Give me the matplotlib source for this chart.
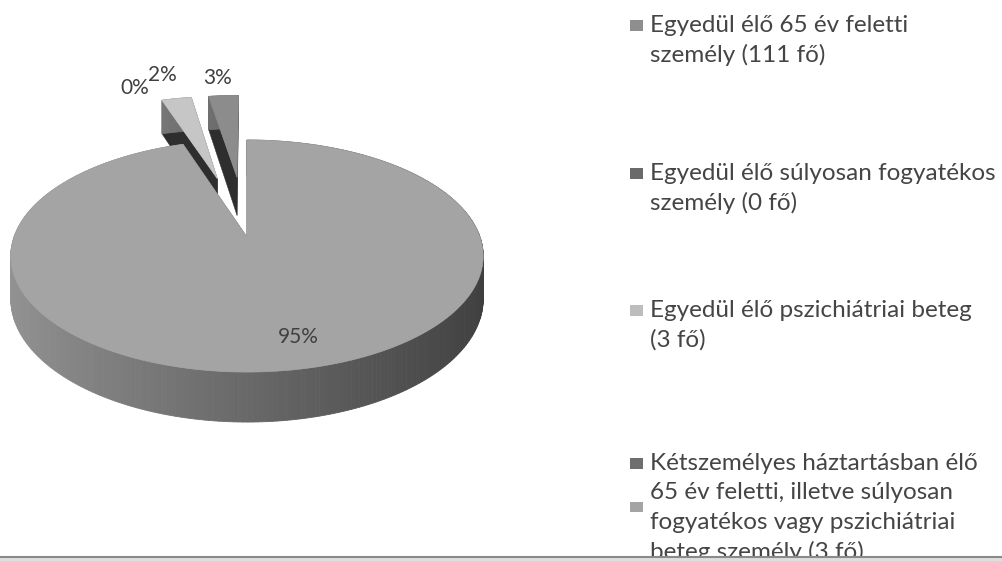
import numpy as np
import matplotlib.pyplot as plt
from matplotlib.patches import Polygon, Rectangle

# Adatok (a diagramról leolvasva)
categories = [
    "Egyedül élő 65 év feletti\nszemély (111 fő)",
    "Egyedül élő súlyosan fogyatékos\nszemély (0 fő)",
    "Egyedül élő pszichiátriai beteg\n(3 fő)",
    "Kétszemélyes háztartásban élő\n65 év feletti, illetve súlyosan\nfogyatékos vagy pszichiátriai\nbeteg személy (3 fő)",
]
values = [111, 0, 3, 3]
pct_labels = ["95%", "0%", "2%", "3%"]

# stílus / elrendezés
top_colors = ["#a4a4a4", "#5a5a5a", "#c6c6c6", "#8c8c8c"]
legend_colors = ["#8e8e8e", "#6a6a6a", "#bdbdbd", "#6e6e6e"]
wall_color = "#2e2e2e"
explode = [0.0, 0.58, 0.58, 0.58]
label_xy = [(298, 337), (135, 88), (162, 75), (218, 78)]
legend_y = [25, 173, 310, 463]
line_h = 29.6

plt.rcParams['font.family'] = ['Lato', 'DejaVu Sans']

fig = plt.figure(figsize=(10.03, 5.61), dpi=100)
ax = fig.add_axes([0, 0, 1, 1])
ax.set_xlim(0, 1003)
ax.set_ylim(561, 0)
ax.axis('off')

# perspektivikus vetítés: X jobbra, Y hátra, Z felfelé (egység sugarú korong)
CX, CY = 247, 237
A, B, P, H = 233, 112.9, 0.164, 41.8


def proj(X, Y, Z=0.0):
    w = 1 + P * Y
    return CX + A * X / w, CY - (B * Y + H * Z) / w


total = float(sum(values))
bounds = np.concatenate([[0], np.cumsum(values)]) / total * 2 * np.pi


def draw_slice(i):
    t0, t1 = bounds[i], bounds[i + 1]
    if t1 - t0 <= 0:
        return
    mid = (t0 + t1) / 2
    ox, oy = explode[i] * np.sin(mid), explode[i] * np.cos(mid)
    n = max(int((t1 - t0) / (2 * np.pi) * 360), 4)
    th = np.linspace(t0, t1, n)
    rx, ry = ox + np.sin(th), oy + np.cos(th)

    # sugárirányú falak
    for t in (t0, t1):
        ex, ey = ox + np.sin(t), oy + np.cos(t)
        pts = [proj(ox, oy, 0), proj(ex, ey, 0), proj(ex, ey, -1), proj(ox, oy, -1)]
        ax.add_patch(Polygon(pts, closed=True, facecolor=wall_color,
                             edgecolor=wall_color, lw=0.3))

    # külső palást, hátulról előre
    order = np.argsort(-(ry[:-1] + ry[1:]))
    for k in order:
        xm = np.sin((th[k] + th[k + 1]) / 2)
        g = np.clip(0.41 - 0.17 * xm, 0, 1)
        col = (g, g, g)
        pts = [proj(rx[k], ry[k], 0), proj(rx[k + 1], ry[k + 1], 0),
               proj(rx[k + 1], ry[k + 1], -1), proj(rx[k], ry[k], -1)]
        ax.add_patch(Polygon(pts, closed=True, facecolor=col, edgecolor=col, lw=0.6))

    # felső lap
    pts = [proj(ox, oy, 0)] + [proj(x, y, 0) for x, y in zip(rx, ry)]
    ax.add_patch(Polygon(pts, closed=True, facecolor=top_colors[i],
                         edgecolor=top_colors[i], lw=0.5))


# a hátsó (kiemelt) szeletek előbb, a nagy szelet utoljára
for i in [3, 2, 1, 0]:
    draw_slice(i)

for lab, (x, y) in zip(pct_labels, label_xy):
    ax.text(x, y, lab, fontsize=15, color="#404040", ha="center", va="center")

# jelmagyarázat
for lab, col, y in zip(categories, legend_colors, legend_y):
    ax.add_patch(Rectangle((630, y - 5.5), 13, 11, facecolor=col, edgecolor="none"))
    for j, line in enumerate(lab.split("\n")):
        ax.text(650, y + j * line_h, line, fontsize=17.5, color="#454545",
                ha="left", va="center")
ax.add_patch(Rectangle((630, 502), 13, 10, facecolor="#a4a4a4", edgecolor="none"))

# alsó elválasztó vonal
ax.add_patch(Rectangle((0, 557), 1003, 5, facecolor="#dedede", edgecolor="none", zorder=5))
ax.plot([0, 1003], [557, 557], color="#8a8a8a", lw=1.5, zorder=6)

fig.savefig("out.png", dpi=100)
